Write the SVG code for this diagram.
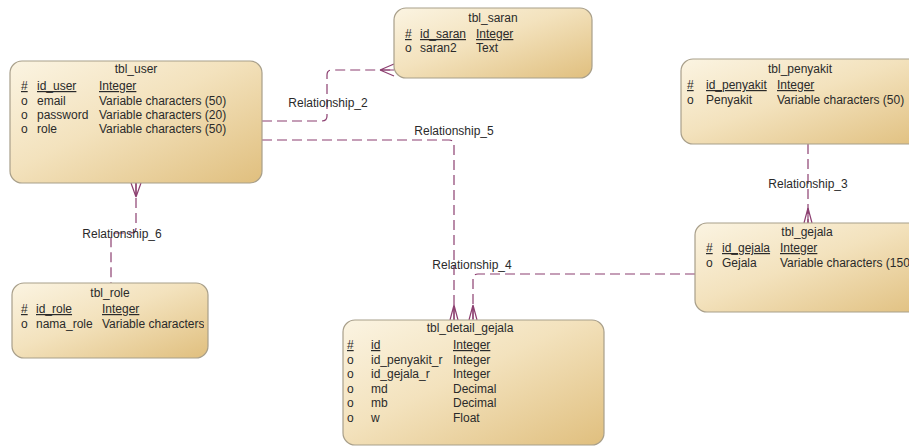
<svg xmlns="http://www.w3.org/2000/svg" width="909" height="447" viewBox="0 0 909 447">
<defs>
<linearGradient id="g" x1="0" y1="0" x2="1" y2="1">
<stop offset="0" stop-color="#fbf4e2"/>
<stop offset="0.45" stop-color="#f3e2bd"/>
<stop offset="1" stop-color="#e0bf7e"/>
</linearGradient>
<clipPath id="cr"><rect x="12" y="283" width="192" height="75"/></clipPath>
<style>
.box{fill:url(#g);stroke:#a89f8a;stroke-width:1.2}
text{font-family:"Liberation Sans",Arial,sans-serif;font-size:12px;fill:#2a2a2a}
.t{text-anchor:middle}
.u{text-decoration:underline}
.l{fill:none;stroke:#8c3f70;stroke-width:1.2;stroke-dasharray:10,5}
.f{fill:none;stroke:#8c3f70;stroke-width:1.2}
</style>
</defs>
<rect width="909" height="447" fill="#fff"/>
<g id="connectors">
<path class="l" d="M262,121 H322 Q327,121 327,116 V75 Q327,70 332,70 H394"/>
<path class="f" d="M380,70 L394,64 M380,70 L394,70 M380,70 L394,76"/>
<path class="l" d="M262,140 H449 Q454,140 454,145 V320"/>
<path class="f" d="M454,305 L450,320 M454,305 L454,320 M454,305 L458,320"/>
<path class="l" d="M695,274 H478 Q473,274 473,279 V320"/>
<path class="f" d="M473,305 L469,320 M473,305 L473,320 M473,305 L477,320"/>
<path class="l" d="M808,144 V223"/>
<path class="f" d="M808,208 L804,223 M808,208 L808,223 M808,208 L812,223"/>
<path class="l" d="M136,183 V228 Q136,233 131,233 H116 Q111,233 111,238 V283"/>
<path class="f" d="M136,197 L131,183 M136,197 L136,183 M136,197 L141,183"/>
<text class="t" x="328" y="107">Relationship_2</text>
<text class="t" x="454" y="135">Relationship_5</text>
<text class="t" x="472" y="269">Relationship_4</text>
<text class="t" x="808" y="188">Relationship_3</text>
<text class="t" x="122" y="238">Relationship_6</text>
</g>
<g id="tbl_user">
<rect class="box" x="10" y="61" width="252" height="122" rx="12"/>
<text class="t" x="136" y="73">tbl_user</text>
<text class="u" x="21" y="90">#</text><text class="u" x="37" y="90">id_user</text><text class="u" x="99" y="90">Integer</text>
<text x="21" y="105">o</text><text x="37" y="105">email</text><text x="99" y="105">Variable characters (50)</text>
<text x="21" y="119">o</text><text x="37" y="119">password</text><text x="99" y="119">Variable characters (20)</text>
<text x="21" y="133">o</text><text x="37" y="133">role</text><text x="99" y="133">Variable characters (50)</text>
</g>
<g id="tbl_saran">
<rect class="box" x="394" y="8" width="198" height="70" rx="12"/>
<text class="t" x="493" y="22">tbl_saran</text>
<text class="u" x="405" y="38">#</text><text class="u" x="420" y="38">id_saran</text><text class="u" x="476" y="38">Integer</text>
<text x="405" y="52">o</text><text x="420" y="52">saran2</text><text x="476" y="52">Text</text>
</g>
<g id="tbl_penyakit">
<rect class="box" x="681" y="59" width="250" height="85" rx="12"/>
<text class="t" x="800" y="73">tbl_penyakit</text>
<text class="u" x="687" y="89">#</text><text class="u" x="706" y="89">id_penyakit</text><text class="u" x="777" y="89">Integer</text>
<text x="687" y="104">o</text><text x="706" y="104">Penyakit</text><text x="777" y="104">Variable characters (50)</text>
</g>
<g id="tbl_gejala">
<rect class="box" x="695" y="223" width="240" height="89" rx="12"/>
<text class="t" x="807" y="236">tbl_gejala</text>
<text class="u" x="706" y="252">#</text><text class="u" x="722" y="252">id_gejala</text><text class="u" x="780" y="252">Integer</text>
<text x="706" y="267">o</text><text x="722" y="267">Gejala</text><text x="780" y="267">Variable characters (150</text>
</g>
<g id="tbl_role">
<rect class="box" x="12" y="283" width="196" height="75" rx="12"/>
<text class="t" x="110" y="297">tbl_role</text>
<g clip-path="url(#cr)">
<text class="u" x="21" y="313">#</text><text class="u" x="36" y="313">id_role</text><text class="u" x="102" y="313">Integer</text>
<text x="21" y="328">o</text><text x="36" y="328">nama_role</text><text x="102" y="328">Variable characters</text>
</g>
</g>
<g id="tbl_detail_gejala">
<rect class="box" x="343" y="320" width="261" height="125" rx="12"/>
<text class="t" x="470" y="332">tbl_detail_gejala</text>
<text class="u" x="347" y="349">#</text><text class="u" x="371" y="349">id</text><text class="u" x="453" y="349">Integer</text>
<text x="347" y="364">o</text><text x="371" y="364">id_penyakit_r</text><text x="453" y="364">Integer</text>
<text x="347" y="378">o</text><text x="371" y="378">id_gejala_r</text><text x="453" y="378">Integer</text>
<text x="347" y="393">o</text><text x="371" y="393">md</text><text x="453" y="393">Decimal</text>
<text x="347" y="407">o</text><text x="371" y="407">mb</text><text x="453" y="407">Decimal</text>
<text x="347" y="422">o</text><text x="371" y="422">w</text><text x="453" y="422">Float</text>
</g>
</svg>
